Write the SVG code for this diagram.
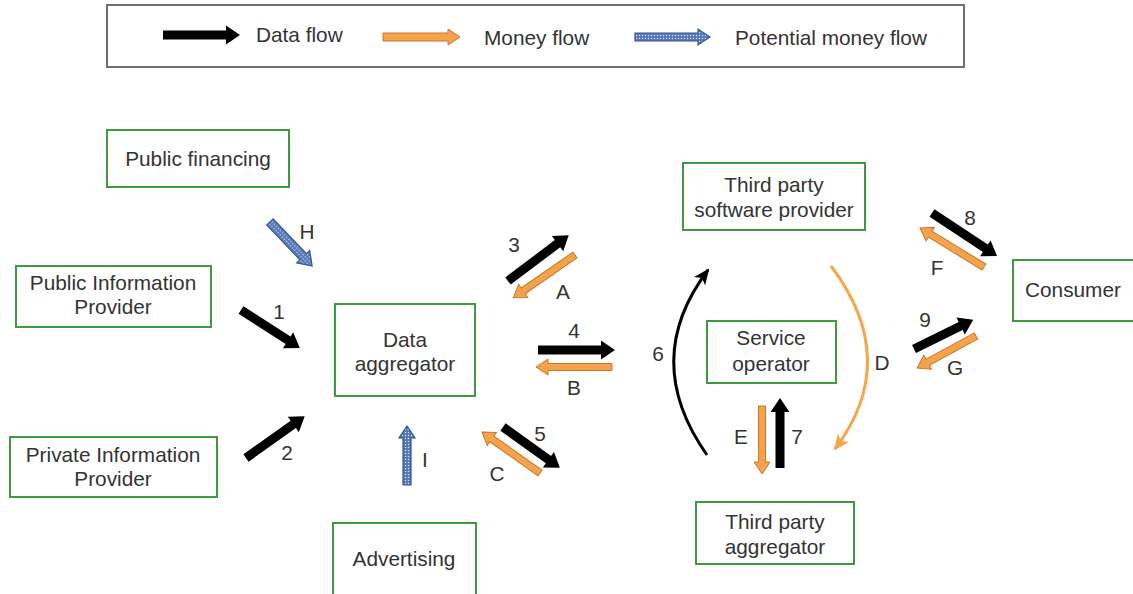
<svg xmlns="http://www.w3.org/2000/svg" width="1133" height="594" viewBox="0 0 1133 594">
<style>
.box{fill:#fff;stroke:#3e9a3e;stroke-width:2}
.leg{fill:#fff;stroke:#6e6e6e;stroke-width:2}
text{font-family:"Liberation Sans",Arial,sans-serif;font-size:20.8px;fill:#333}
.c{text-anchor:middle}
.blk{fill:#000}
.org{fill:#f4a24c;stroke:#c7772c;stroke-width:1}
.pot{fill:url(#dots);stroke:#34558a;stroke-width:1.2}
</style>
<defs>
<pattern id="dots" width="3" height="3" patternUnits="userSpaceOnUse">
<rect width="3" height="3" fill="#5577b8"/>
<circle cx="1.5" cy="1.5" r="0.7" fill="#dfe8f6"/>
</pattern>
<marker id="hb" markerWidth="16" markerHeight="14" refX="14" refY="7" orient="auto" markerUnits="userSpaceOnUse">
<path d="M0,0 L16,7 L0,14 L4,7 Z" fill="#000"/>
</marker>
<marker id="ho" markerWidth="16" markerHeight="14" refX="14" refY="7" orient="auto" markerUnits="userSpaceOnUse">
<path d="M0,0 L16,7 L0,14 L4,7 Z" fill="#f7a64a"/>
</marker>
</defs>

<g id="legend">
<rect class="leg" x="107" y="5" width="857" height="62"/>
<polygon class="blk" transform="translate(163,35)" points="0,-4.5 63,-4.5 63,-9.5 77,0 63,9.5 63,4.5 0,4.5"/>
<text x="256" y="42">Data flow</text>
<polygon class="org" transform="translate(383,37)" points="0,-4 65,-4 65,-8 77,0 65,8 65,4 0,4"/>
<text x="484" y="45">Money flow</text>
<polygon class="pot" transform="translate(635,37)" points="0,-4 63,-4 63,-8 75,0 63,8 63,4 0,4"/>
<text x="735" y="45">Potential money flow</text>
</g>

<g id="public-financing"><rect class="box" x="107" y="130" width="182" height="57"/><text class="c" x="198" y="166">Public financing</text></g>
<g id="public-information-provider"><rect class="box" x="16" y="266" width="195" height="61"/><text class="c" x="113" y="290">Public Information</text><text class="c" x="113" y="314">Provider</text></g>
<g id="private-information-provider"><rect class="box" x="10" y="437" width="207" height="60"/><text class="c" x="113" y="462">Private Information</text><text class="c" x="113" y="486">Provider</text></g>
<g id="data-aggregator"><rect class="box" x="335" y="304" width="140" height="92"/><text class="c" x="405" y="347">Data</text><text class="c" x="405" y="371">aggregator</text></g>
<g id="advertising"><rect class="box" x="333" y="523" width="143" height="75"/><text class="c" x="404" y="566">Advertising</text></g>
<g id="third-party-software-provider"><rect class="box" x="683" y="163" width="182" height="67"/><text class="c" x="774" y="192">Third party</text><text class="c" x="774" y="217">software provider</text></g>
<g id="service-operator"><rect class="box" x="707" y="321" width="129" height="62"/><text class="c" x="771" y="345">Service</text><text class="c" x="771" y="371">operator</text></g>
<g id="third-party-aggregator"><rect class="box" x="696" y="502" width="158" height="62"/><text class="c" x="775" y="529">Third party</text><text class="c" x="775" y="554">aggregator</text></g>
<g id="consumer"><rect class="box" x="1013" y="260" width="130" height="61"/><text x="1025" y="297">Consumer</text></g>

<g id="connectors">
<polygon class="pot" transform="translate(270,222) rotate(46.3)" points="0,-4.5 48,-4.5 48,-9 61,0 48,9 48,4.5 0,4.5"/>
<polygon class="blk" transform="translate(241,310) rotate(32.8)" points="0,-4.5 56,-4.5 56,-9.5 70,0 56,9.5 56,4.5 0,4.5"/>
<polygon class="blk" transform="translate(246,458) rotate(-35.4)" points="0,-4.5 58,-4.5 58,-9.5 72,0 58,9.5 58,4.5 0,4.5"/>
<polygon class="blk" transform="translate(508,281) rotate(-37)" points="0,-4.5 62,-4.5 62,-9.5 76,0 62,9.5 62,4.5 0,4.5"/>
<polygon class="org" transform="translate(575,255) rotate(145.3)" points="0,-3.5 63,-3.5 63,-8 75,0 63,8 63,3.5 0,3.5"/>
<polygon class="blk" transform="translate(538,350)" points="0,-4.5 63,-4.5 63,-9.5 77,0 63,9.5 63,4.5 0,4.5"/>
<polygon class="org" transform="translate(612,367) rotate(180)" points="0,-3.5 64,-3.5 64,-8 76,0 64,8 64,3.5 0,3.5"/>
<polygon class="blk" transform="translate(503,427) rotate(35.7)" points="0,-4.5 56,-4.5 56,-9.5 70,0 56,9.5 56,4.5 0,4.5"/>
<polygon class="org" transform="translate(540,473) rotate(215.3)" points="0,-3.5 59,-3.5 59,-8 71,0 59,8 59,3.5 0,3.5"/>
<polygon class="pot" transform="translate(407,485) rotate(-90)" points="0,-4 47,-4 47,-8 59,0 47,8 47,4 0,4"/>
<path d="M707,455 Q640,360 708,270" fill="none" stroke="#000" stroke-width="3" marker-end="url(#hb)"/>
<path d="M831,266 Q902,360 835,449" fill="none" stroke="#f7a64a" stroke-width="3" marker-end="url(#ho)"/>
<polygon class="org" transform="translate(762,406) rotate(90)" points="0,-3.5 56,-3.5 56,-8 68,0 56,8 56,3.5 0,3.5"/>
<polygon class="blk" transform="translate(780,468) rotate(-90)" points="0,-4.5 56,-4.5 56,-9.5 70,0 56,9.5 56,4.5 0,4.5"/>
<polygon class="blk" transform="translate(932,213) rotate(33.5)" points="0,-4.5 64,-4.5 64,-9.5 78,0 64,9.5 64,4.5 0,4.5"/>
<polygon class="org" transform="translate(984,267) rotate(211.4)" points="0,-3.5 63,-3.5 63,-8 75,0 63,8 63,3.5 0,3.5"/>
<polygon class="blk" transform="translate(914,349) rotate(-26.2)" points="0,-4.5 52,-4.5 52,-9.5 66,0 52,9.5 52,4.5 0,4.5"/>
<polygon class="org" transform="translate(976,336) rotate(151.5)" points="0,-3.5 55,-3.5 55,-8 67,0 55,8 55,3.5 0,3.5"/>
<text class="c" x="307" y="239">H</text>
<text class="c" x="279" y="319">1</text>
<text class="c" x="287" y="460">2</text>
<text class="c" x="514" y="252">3</text>
<text class="c" x="563" y="299">A</text>
<text class="c" x="574" y="338">4</text>
<text class="c" x="574" y="395">B</text>
<text class="c" x="540" y="441">5</text>
<text class="c" x="497" y="481">C</text>
<text class="c" x="425" y="467">I</text>
<text class="c" x="658" y="361">6</text>
<text class="c" x="882" y="370">D</text>
<text class="c" x="741" y="444">E</text>
<text class="c" x="797" y="444">7</text>
<text class="c" x="970" y="225">8</text>
<text class="c" x="937" y="275">F</text>
<text class="c" x="925" y="327">9</text>
<text class="c" x="955" y="375">G</text>
</g>
</svg>
